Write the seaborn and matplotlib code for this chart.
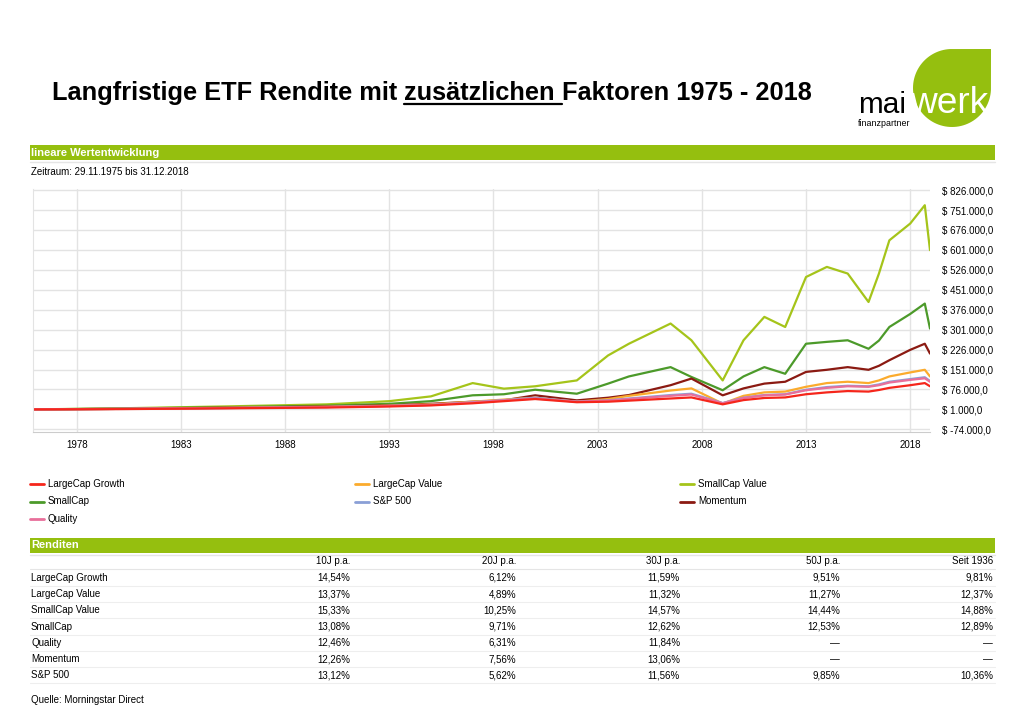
import numpy as np
import pandas as pd
import matplotlib
matplotlib.use("Agg")
import matplotlib.pyplot as plt
import seaborn as sns
from matplotlib.patches import Rectangle, PathPatch
from matplotlib.path import Path

GREEN = "#95bf0f"

# Zeitpunkte (Jahre) und Werte in Tausend $
years = [1975.9, 1980, 1985, 1990, 1993, 1995, 1997, 1998.5, 2000, 2002, 2003.5, 2004.5,
         2006.5, 2007.5, 2009, 2010, 2011, 2012, 2013, 2014, 2015, 2016, 2016.5, 2017,
         2018, 2018.7, 2018.95]
smallcap_value = [1, 5, 12, 20, 32, 50, 100, 79, 88, 110, 204, 248, 324, 261, 110, 261,
                  349, 311, 499, 537, 512, 405, 512, 637, 700, 769, 600]
smallcap = [1, 4, 9, 15, 22, 32, 54, 58, 75, 60, 98, 125, 160, 123, 73, 125, 160, 135,
            248, 255, 261, 229, 260, 311, 360, 399, 305]
momentum = [1, 3, 7, 12, 16, 22, 30, 35, 54, 35, 45, 55, 92, 117, 54, 80, 98, 105, 142,
            150, 160, 150, 165, 186, 225, 248, 211]
largecap_value = [1, 3, 7, 11, 15, 20, 30, 38, 45, 30, 40, 52, 72, 80, 23, 52, 65, 68,
                  86, 100, 105, 100, 110, 125, 140, 150, 125]
sp500 = [1, 3, 6, 10, 14, 18, 28, 36, 45, 30, 35, 42, 55, 60, 25, 45, 55, 58, 75, 85,
         90, 88, 95, 105, 115, 122, 108]
quality = [1, 3, 6, 10, 14, 18, 27, 35, 42, 30, 34, 40, 52, 57, 24, 44, 54, 57, 73,
           82, 88, 86, 92, 102, 112, 118, 105]
largecap_growth = [1, 2, 5, 8, 12, 16, 24, 32, 40, 28, 30, 34, 42, 46, 20, 36, 44, 46,
                   58, 65, 70, 68, 74, 82, 92, 100, 88]

series = {
    "LargeCap Growth": (largecap_growth, "#f5261b"),
    "LargeCap Value": (largecap_value, "#fbab2d"),
    "SmallCap Value": (smallcap_value, "#a5c41a"),
    "SmallCap": (smallcap, "#4c9a2a"),
    "S&P 500": (sp500, "#8a9fd6"),
    "Momentum": (momentum, "#8b1a12"),
    "Quality": (quality, "#e86f9a"),
}
draw_order = ["SmallCap Value", "SmallCap", "Momentum", "LargeCap Value", "S&P 500",
              "Quality", "LargeCap Growth"]

rows = ["LargeCap Growth", "LargeCap Value", "SmallCap Value", "SmallCap", "Quality",
        "Momentum", "S&P 500"]
cols = ["10J p.a.", "20J p.a.", "30J p.a.", "50J p.a.", "Seit 1936"]
r10 = ["14,54%", "13,37%", "15,33%", "13,08%", "12,46%", "12,26%", "13,12%"]
r20 = ["6,12%", "4,89%", "10,25%", "9,71%", "6,31%", "7,56%", "5,62%"]
r30 = ["11,59%", "11,32%", "14,57%", "12,62%", "11,84%", "13,06%", "11,56%"]
r50 = ["9,51%", "11,27%", "14,44%", "12,53%", "—", "—", "9,85%"]
r36 = ["9,81%", "12,37%", "14,88%", "12,89%", "—", "—", "10,36%"]

W, H = 1024, 724
sns.set_style("white")
plt.rcParams["text.color"] = "black"
fig = plt.figure(figsize=(W / 100, H / 100), dpi=100)

# Hintergrund-Achse in Pixelkoordinaten
bg = fig.add_axes([0, 0, 1, 1])
bg.set_xlim(0, W)
bg.set_ylim(H, 0)
bg.axis("off")
font = "Liberation Sans"

fig.canvas.draw()
r = fig.canvas.get_renderer()


def fit_text(x, y, s, width, **kw):
    # Schriftgroesse so waehlen, dass der Text ungefaehr die Breite hat
    t = bg.text(x, y, s, fontsize=20, **kw)
    w = t.get_window_extent(r).width
    t.set_fontsize(20 * width / w)
    return t


# Titel mit unterstrichenem Wort
parts = ["Langfristige ETF Rendite mit ", "zusätzlichen ", "Faktoren 1975 - 2018"]
x = 52
for i, p in enumerate(parts):
    t = bg.text(x, 93, p, fontsize=18.3, fontweight="bold", family=font, va="center",
                ha="left")
    bb = t.get_window_extent(r)
    if i == 1:
        bg.plot([x, x + bb.width], [104, 104], color="black", lw=1.6)
    x += bb.width

# Logo
cx, cy, rad = 952, 88, 39
theta = np.linspace(np.pi / 2 + 0.05, 2 * np.pi - 0.05, 80)
verts = [(cx + rad * np.cos(a), cy - rad * np.sin(a)) for a in theta]
verts += [(cx + rad, cy - rad), verts[0]]
bg.add_patch(PathPatch(Path(verts), facecolor=GREEN, edgecolor="none"))
fit_text(858, 113, "mai", 48, family=font, color="black", ha="left", va="baseline")
fit_text(910, 113, "werk", 78, family=font, color="white", ha="left", va="baseline")
fit_text(858, 126, "finanzpartner", 52, family=font, color="black", ha="left",
         va="baseline")

# Gruene Balken
for y0, label in [(145, "lineare Wertentwicklung"), (538, "Renditen")]:
    bg.add_patch(Rectangle((30, y0), 965, 15, color=GREEN, lw=0))
    bg.text(31, y0 + 7.5, label, color="white", fontsize=8, fontweight="bold",
            family=font, va="center")
    bg.plot([30, 995], [y0 + 17, y0 + 17], color="#e5e5e5", lw=1)
bg.text(31, 172, "Zeitraum: 29.11.1975 bis 31.12.2018", fontsize=7, family=font,
        va="center")

# Legende
leg_items = ["LargeCap Growth", "LargeCap Value", "SmallCap Value", "SmallCap",
             "S&P 500", "Momentum", "Quality"]
for i, name in enumerate(leg_items):
    lx = [30, 355, 680][i % 3]
    ly = 484 + 17.5 * (i // 3)
    bg.plot([lx, lx + 14], [ly, ly], color=series[name][1], lw=2)
    bg.text(lx + 18, ly, name, fontsize=7, family=font, va="center")

# Tabelle
col_x = [350, 516, 680, 840, 993]
for cxp, c in zip(col_x, cols):
    bg.text(cxp, 561, c, fontsize=7, family=font, ha="right", va="center")
bg.plot([30, 995], [569, 569], color="#e5e5e5", lw=0.8)
for j, name in enumerate(rows):
    ry = 578 + 16.2 * j
    bg.text(31, ry, name, fontsize=7, family=font, va="center")
    for cxp, vals in zip(col_x, [r10, r20, r30, r50, r36]):
        bg.text(cxp, ry, vals[j], fontsize=7, family=font, ha="right", va="center")
    bg.plot([30, 995], [ry + 8, ry + 8], color="#eeeeee", lw=0.8)
bg.text(31, 700, "Quelle: Morningstar Direct", fontsize=7, family=font, va="center")

# Chart
ax = fig.add_axes([33 / W, 1 - 432 / H, (930 - 33) / W, (432 - 189) / H])
frames = []
for name in draw_order:
    vals, col = series[name]
    frames.append(pd.DataFrame({"year": years, "value": np.array(vals) * 1000.0,
                                "name": name}))
df = pd.concat(frames)
pal = {k: v[1] for k, v in series.items()}
sns.lineplot(data=df, x="year", y="value", hue="name", hue_order=draw_order,
             palette=pal, ax=ax, legend=False, lw=1.6)
ax.set_xlim(1975.9, 2018.95)
ax.set_ylim(-84000, 830000)
yt = np.arange(-74000, 826001, 75000)
ax.set_yticks(yt)
ax.set_yticklabels([f"$ {v:,.1f}".replace(",", "X").replace(".", ",").replace("X", ".")
                    for v in yt], fontsize=7, family=font, color="black")
ax.yaxis.tick_right()
ax.set_xticks(range(1978, 2019, 5))
ax.set_xticklabels([str(y) for y in range(1978, 2019, 5)], fontsize=7, family=font,
                   color="black")
ax.tick_params(axis="y", length=0, pad=9)
ax.tick_params(axis="x", length=0, pad=6)
ax.grid(True, color="#e3e3e3", lw=1)
ax.set_xlabel("")
ax.set_ylabel("")
for s in ["top", "right"]:
    ax.spines[s].set_visible(False)
ax.spines["left"].set_color("#e3e3e3")
ax.spines["bottom"].set_color("#cccccc")

fig.savefig("out.png", dpi=100)
